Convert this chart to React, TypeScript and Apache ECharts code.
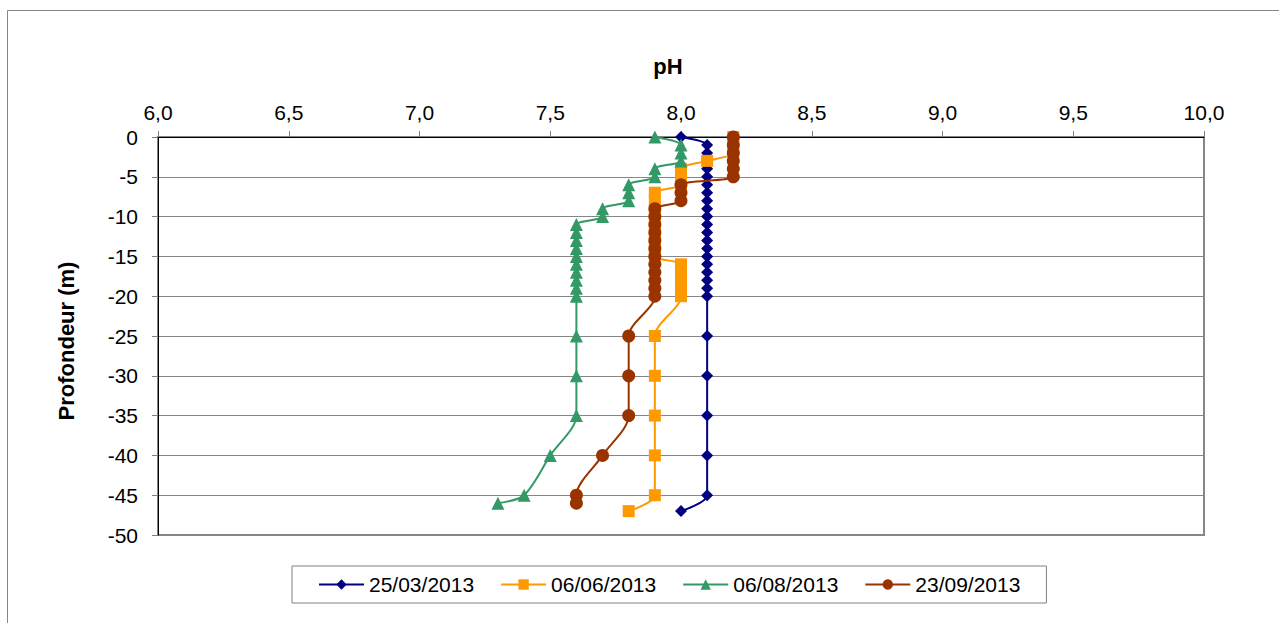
import React, { useEffect, useRef } from "react";
import * as echarts from "echarts";

const seriesNames = ["25/03/2013", "06/06/2013", "06/08/2013", "23/09/2013"];
const seriesColors = ["#000080", "#FF9900", "#339966", "#993300"];
const seriesSymbols = ["diamond", "rect", "triangle", "circle"];
const seriesSymbolSizes = [12, 12, 13, 13];

const depthMar = [0, -1, -2, -3, -4, -5, -6, -7, -8, -9, -10, -11, -12, -13, -14, -15, -16, -17, -18, -19, -20, -25, -30, -35, -40, -45, -47];
const phMar = [8.0, 8.1, 8.1, 8.1, 8.1, 8.1, 8.1, 8.1, 8.1, 8.1, 8.1, 8.1, 8.1, 8.1, 8.1, 8.1, 8.1, 8.1, 8.1, 8.1, 8.1, 8.1, 8.1, 8.1, 8.1, 8.1, 8.0];

const depthJun = [0, -1, -2, -3, -4, -5, -6, -7, -8, -9, -10, -11, -12, -13, -14, -15, -16, -17, -18, -19, -20, -25, -30, -35, -40, -45, -47];
const phJun = [8.2, 8.2, 8.2, 8.1, 8.0, 8.0, 8.0, 7.9, 7.9, 7.9, 7.9, 7.9, 7.9, 7.9, 7.9, 7.9, 8.0, 8.0, 8.0, 8.0, 8.0, 7.9, 7.9, 7.9, 7.9, 7.9, 7.8];

const depthAug = [0, -1, -2, -3, -4, -5, -6, -7, -8, -9, -10, -11, -12, -13, -14, -15, -16, -17, -18, -19, -20, -25, -30, -35, -40, -45, -46];
const phAug = [7.9, 8.0, 8.0, 8.0, 7.9, 7.9, 7.8, 7.8, 7.8, 7.7, 7.7, 7.6, 7.6, 7.6, 7.6, 7.6, 7.6, 7.6, 7.6, 7.6, 7.6, 7.6, 7.6, 7.6, 7.5, 7.4, 7.3];

const depthSep = [0, -1, -2, -3, -4, -5, -6, -7, -8, -9, -10, -11, -12, -13, -14, -15, -16, -17, -18, -19, -20, -25, -30, -35, -40, -45, -46];
const phSep = [8.2, 8.2, 8.2, 8.2, 8.2, 8.2, 8.0, 8.0, 8.0, 7.9, 7.9, 7.9, 7.9, 7.9, 7.9, 7.9, 7.9, 7.9, 7.9, 7.9, 7.9, 7.8, 7.8, 7.8, 7.7, 7.6, 7.6];

const xAxisTitle = "pH";
const yAxisTitle = "Profondeur (m)";

const FONT = "'Liberation Sans', Arial, sans-serif";

export default function App() {
  const ref = useRef<HTMLDivElement>(null);

  useEffect(() => {
    if (!ref.current) return;
    const chart = echarts.init(ref.current, undefined, { renderer: "svg" });
    const depths = [depthMar, depthJun, depthAug, depthSep];
    const phs = [phMar, phJun, phAug, phSep];

    const series = seriesNames.map((name, s) => ({
      name,
      type: "line",
      smooth: 0.3,
      symbol: seriesSymbols[s],
      symbolSize: seriesSymbolSizes[s],
      showAllSymbol: true,
      data: depths[s].map((d, i) => [phs[s][i], d]),
      lineStyle: { color: seriesColors[s], width: 2 },
      itemStyle: { color: seriesColors[s], borderWidth: 0 },
      emphasis: { disabled: true },
      z: 2 + s,
    }));

    chart.setOption({
      animation: false,
      backgroundColor: "#ffffff",
      textStyle: { fontFamily: FONT },
      grid: {
        left: 158,
        top: 137,
        width: 1046,
        height: 398,
        show: true,
        borderColor: "#868686",
        borderWidth: 2,
        backgroundColor: "transparent",
      },
      xAxis: {
        type: "value",
        position: "top",
        min: 6,
        max: 10,
        interval: 0.5,
        axisLine: { show: true, lineStyle: { color: "#000000", width: 1 } },
        axisTick: { show: true, inside: false, length: 6, lineStyle: { color: "#808080" } },
        splitLine: { show: false },
        axisLabel: {
          margin: 14,
          fontSize: 21,
          color: "#000000",
          fontFamily: FONT,
          formatter: (v: number) => v.toFixed(1).replace(".", ","),
        },
      },
      yAxis: {
        type: "value",
        min: -50,
        max: 0,
        interval: 5,
        axisLine: { show: true, onZero: false, lineStyle: { color: "#000000", width: 1 } },
        axisTick: { show: true, inside: false, length: 6, lineStyle: { color: "#808080" } },
        splitLine: { show: true, lineStyle: { color: "#868686", width: 1 } },
        axisLabel: {
          margin: 20,
          fontSize: 21,
          color: "#000000",
          fontFamily: FONT,
          formatter: (v: number) => String(v),
        },
      },
      legend: {
        data: seriesNames,
        left: 292,
        top: 566,
        orient: "horizontal",
        itemWidth: 45,
        itemHeight: 13,
        itemGap: 26,
        padding: [8, 26, 8, 26],
        borderColor: "#808080",
        borderWidth: 1,
        textStyle: { fontSize: 21, color: "#000000", fontFamily: FONT },
      },
      graphic: [
        {
          type: "rect",
          shape: { x: 7.5, y: 10.5, width: 1400, height: 800 },
          style: { fill: "none", stroke: "#868686", lineWidth: 1 },
          silent: true,
          z: -10,
        },
        {
          type: "text",
          x: 668,
          y: 66,
          style: {
            text: xAxisTitle,
            font: `bold 22px ${FONT}`,
            fill: "#000000",
            textAlign: "center",
            textVerticalAlign: "middle",
          },
        },
        {
          type: "text",
          x: 66,
          y: 341,
          rotation: Math.PI / 2,
          style: {
            text: yAxisTitle,
            font: `bold 22px ${FONT}`,
            fill: "#000000",
            textAlign: "center",
            textVerticalAlign: "middle",
          },
        },
      ],
      series,
    });

    return () => chart.dispose();
  }, []);

  return (
    <div
      ref={ref}
      style={{ position: "absolute", left: 0, top: 0, width: 1279, height: 623, background: "#fff" }}
    />
  );
}
